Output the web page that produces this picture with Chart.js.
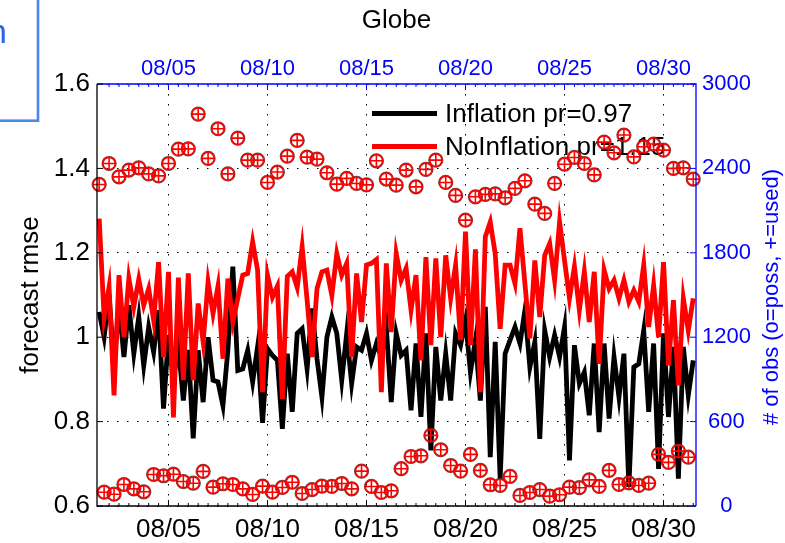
<!DOCTYPE html>
<html>
<head>
<meta charset="utf-8">
<script src="https://cdn.jsdelivr.net/npm/chart.js@4.4.1/dist/chart.umd.min.js"></script>
<style>
  html, body { margin: 0; padding: 0; background: #ffffff; }
  canvas { display: block; }
</style>
</head>
<body>
<canvas id="chart" width="785" height="543"></canvas>
<script>
const FONT = '"Liberation Sans", Arial, Helvetica, sans-serif';

// 6-hourly analysis cycles, in days of August (08/01 12Z .. 08/31 12Z)
const firstCycleDay = 1.5;
const cycleDays = Array.from({ length: 121 }, (_, i) => firstCycleDay + i * 0.25);

// axis ticks
const dateTicks = [5, 10, 15, 20, 25, 30];
const dateLabels = ['08/05', '08/10', '08/15', '08/20', '08/25', '08/30'];
const rmseTicks = [0.6, 0.8, 1.0, 1.2, 1.4, 1.6];
const obsTicks = [0, 600, 1200, 1800, 2400, 3000];

// forecast rmse, with inflation
const rmseInflation = [
  1.06, 1.00, 1.10, 0.93, 1.08, 0.953, 1.076, 0.961, 1.048, 0.933,
  1.024, 0.965, 1.064, 0.831, 1.005, 0.90, 0.98, 0.85, 0.97, 0.760,
  0.969, 0.846, 1.000, 0.898, 0.894, 0.838, 0.97, 1.167, 0.921, 0.925,
  0.969, 0.894, 0.977, 0.797, 0.973, 0.957, 0.945, 0.783, 0.961, 0.823,
  1.009, 1.020, 0.925, 1.068, 0.949, 0.858, 1.000, 1.048, 1.009, 0.898,
  1.009, 0.890, 0.977, 0.969, 1.009, 0.945, 0.985, 0.953, 1.024, 0.846,
  1.009, 0.957, 0.969, 0.827, 0.985, 0.811, 1.009, 0.732, 0.977, 0.850,
  0.961, 0.850, 1.009, 0.981, 1.040, 0.917, 0.993, 0.850, 1.072, 0.716,
  0.989, 0.665, 0.961, 0.993, 1.024, 0.985, 1.064, 0.929, 0.989, 0.759,
  1.016, 0.953, 1.005, 0.953, 1.024, 0.708, 0.981, 0.890, 0.917, 0.815,
  0.985, 0.775, 0.985, 0.807, 0.953, 0.858, 0.961, 0.645, 0.929, 0.937,
  1.016, 0.823, 0.985, 0.688, 1.009, 0.811, 0.977, 0.665, 0.977, 0.862,
  0.945
];

// forecast rmse, without inflation
const rmseNoInflation = [
  1.281, 1.048, 1.119, 0.862, 1.147, 1.000, 1.139, 1.072, 1.137, 1.076,
  1.115, 1.040, 1.178, 0.953, 1.155, 0.810, 1.141, 0.898, 1.151, 0.898,
  1.080, 0.989, 1.131, 1.056, 1.121, 0.949, 1.139, 1.036, 1.092, 1.147,
  1.151, 1.226, 1.159, 0.870, 1.147, 1.095, 1.121, 0.854, 1.144, 1.155,
  1.118, 1.214, 1.088, 0.953, 1.115, 1.155, 1.159, 1.099, 1.198, 1.147,
  1.175, 0.953, 1.151, 1.036, 1.171, 1.175, 1.184, 0.870, 1.175, 1.012,
  1.198, 1.135, 1.163, 1.064, 1.147, 0.945, 1.190, 0.981, 1.187, 1.000,
  1.194, 1.092, 1.171, 0.993, 1.250, 0.981, 1.208, 0.870, 1.238, 1.273,
  1.198, 1.020, 1.171, 1.171, 1.127, 1.258, 1.127, 0.997, 1.182, 1.048,
  1.194, 1.222, 1.135, 1.273, 1.182, 1.092, 1.167, 1.064, 1.155, 1.036,
  1.155, 0.937, 1.159, 1.115, 1.135, 1.092, 1.135, 1.084, 1.111, 1.084,
  1.171, 1.024, 1.123, 1.000, 1.178, 0.933, 1.088, 0.886, 1.092, 1.016,
  1.092
];

// number of observations per cycle (possible = used)
const obsCount = [
  2286, 98, 2435, 84, 2340, 153, 2388, 122, 2404, 101,
  2361, 224, 2347, 215, 2435, 226, 2537, 174, 2539, 162,
  2786, 246, 2471, 134, 2682, 158, 2361, 153, 2615, 122,
  2459, 82, 2459, 141, 2300, 98, 2374, 132, 2487, 169,
  2599, 89, 2480, 117, 2466, 141, 2369, 139, 2288, 160,
  2329, 122, 2293, 248, 2283, 139, 2454, 96, 2324, 108,
  2281, 265, 2388, 352, 2269, 357, 2393, 502, 2459, 400,
  2300, 288, 2208, 248, 2032, 367, 2198, 253, 2215, 151,
  2219, 146, 2191, 210, 2258, 75, 2312, 96, 2146, 117,
  2080, 70, 2293, 80, 2430, 134, 2478, 130, 2435, 186,
  2354, 139, 2587, 253, 2511, 153, 2637, 165, 2482, 146,
  2554, 162, 2573, 367, 2530, 310, 2400, 390, 2404, 347,
  2324
];

const toPoints = (ys) => ys.map((y, i) => ({ x: cycleDays[i], y }));

const BLUE = '#0000ff';
const RED = '#ff0000';

// axes frame, inward tick marks, titles and legend
const axesDecor = {
  id: 'axesDecor',
  beforeDatasetsDraw(chart) {
    const { ctx } = chart;
    // legend
    const items = [chart.data.datasets[0], chart.data.datasets[1]];
    const yRows = [113.5, 146.5];
    ctx.save();
    ctx.font = '26px ' + FONT;
    ctx.textBaseline = 'middle';
    ctx.textAlign = 'left';
    items.forEach((ds, k) => {
      ctx.strokeStyle = ds.borderColor;
      ctx.lineWidth = 4.8;
      ctx.beginPath();
      ctx.moveTo(372, yRows[k]);
      ctx.lineTo(437, yRows[k]);
      ctx.stroke();
      ctx.fillStyle = '#000';
      ctx.fillText(ds.label, 445, yRows[k] + 1);
    });
    ctx.restore();
  },
  afterDraw(chart) {
    const { ctx, chartArea: a, scales } = chart;
    const { x, x2, y, y2 } = scales;
    ctx.save();

    // axis lines
    ctx.lineWidth = 1.3;
    ctx.strokeStyle = '#000';
    ctx.beginPath();
    ctx.moveTo(a.left, a.top); ctx.lineTo(a.left, a.bottom); ctx.lineTo(a.right, a.bottom);
    ctx.stroke();
    ctx.strokeStyle = BLUE;
    ctx.beginPath();
    ctx.moveTo(a.left, a.top); ctx.lineTo(a.right, a.top); ctx.lineTo(a.right, a.bottom);
    ctx.stroke();

    // date ticks: majors each 5 days, minors every half day
    ctx.lineWidth = 1;
    for (let d = 2; d <= 31.5; d += 0.5) {
      const len = dateTicks.includes(d) ? 6 : 3;
      const px = x.getPixelForValue(d);
      ctx.strokeStyle = '#000';
      ctx.beginPath(); ctx.moveTo(px, a.bottom); ctx.lineTo(px, a.bottom - len); ctx.stroke();
      const pt = x2.getPixelForValue(d);
      ctx.strokeStyle = BLUE;
      ctx.beginPath(); ctx.moveTo(pt, a.top); ctx.lineTo(pt, a.top + len); ctx.stroke();
    }
    // value ticks
    ctx.strokeStyle = '#000';
    rmseTicks.forEach(v => {
      const py = y.getPixelForValue(v);
      ctx.beginPath(); ctx.moveTo(a.left, py); ctx.lineTo(a.left + 6, py); ctx.stroke();
    });
    ctx.strokeStyle = BLUE;
    obsTicks.forEach(v => {
      const py = y2.getPixelForValue(v);
      ctx.beginPath(); ctx.moveTo(a.right, py); ctx.lineTo(a.right - 6, py); ctx.stroke();
    });

    // titles
    ctx.fillStyle = '#000';
    ctx.font = '26px ' + FONT;
    ctx.textAlign = 'center';
    ctx.textBaseline = 'alphabetic';
    ctx.fillText('Globe', (a.left + a.right) / 2, 28);

    ctx.save();
    ctx.translate(38, (a.top + a.bottom) / 2);
    ctx.rotate(-Math.PI / 2);
    ctx.fillText('forecast rmse', 0, 0);
    ctx.restore();

    ctx.save();
    ctx.fillStyle = BLUE;
    ctx.font = '22px ' + FONT;
    ctx.translate(778, 297);
    ctx.rotate(-Math.PI / 2);
    ctx.fillText('# of obs (o=poss, +=used)', 0, 0);
    ctx.restore();

    // neighbouring panel edge at the top-left corner
    ctx.strokeStyle = '#4a86f0';
    ctx.lineWidth = 2.6;
    ctx.strokeRect(-10, -10, 48, 130.7);
    ctx.fillStyle = '#2a62f2';
    ctx.font = '34px ' + FONT;
    ctx.textAlign = 'left';
    ctx.fillText('n', -12, 43);

    ctx.restore();
  }
};

const dateTickLabel = (v) => {
  const k = dateTicks.indexOf(v);
  return k >= 0 ? dateLabels[k] : '';
};

const markerBase = {
  data: toPoints(obsCount),
  showLine: false,
  pointBackgroundColor: 'rgba(0,0,0,0)',
  yAxisID: 'y2',
  clip: false
};

new Chart(document.getElementById('chart'), {
  type: 'line',
  data: {
    datasets: [
      {
        label: 'Inflation pr=0.97',
        data: toPoints(rmseInflation),
        borderColor: '#000000',
        borderWidth: 4.8,
        pointRadius: 0,
        tension: 0,
        yAxisID: 'y',
        order: 4
      },
      {
        label: 'NoInflation pr=1.15',
        data: toPoints(rmseNoInflation),
        borderColor: RED,
        borderWidth: 4.8,
        pointRadius: 0,
        tension: 0,
        yAxisID: 'y',
        order: 3
      },
      Object.assign({}, markerBase, {
        label: 'obs possible (outline)',
        pointStyle: 'circle',
        pointRadius: 7,
        pointBorderWidth: 1.2,
        pointBorderColor: 'rgba(40,20,20,0.75)',
        order: 2
      }),
      Object.assign({}, markerBase, {
        label: 'obs possible',
        pointStyle: 'circle',
        pointRadius: 6.2,
        pointBorderWidth: 1.7,
        pointBorderColor: RED,
        order: 1
      }),
      Object.assign({}, markerBase, {
        label: 'obs used',
        pointStyle: 'cross',
        pointRadius: 6.2,
        pointBorderWidth: 1.6,
        pointBorderColor: RED,
        order: 0
      })
    ]
  },
  options: {
    responsive: false,
    animation: false,
    events: [],
    layout: { padding: 0 },
    plugins: { legend: { display: false }, tooltip: { enabled: false }, title: { display: false } },
    scales: {
      x: {
        type: 'linear',
        position: 'bottom',
        min: 1.39,
        max: 31.64,
        afterBuildTicks: (s) => { s.ticks = dateTicks.map(v => ({ value: v })); },
        afterFit: (s) => { s.height = 37; },
        ticks: {
          callback: dateTickLabel,
          color: '#000',
          font: { family: FONT, size: 26 },
          maxRotation: 0,
          autoSkip: false,
          padding: 8
        },
        grid: { drawTicks: false, color: '#000', lineWidth: 1 },
        border: { display: false, dash: [1.5, 8.5] }
      },
      x2: {
        type: 'linear',
        position: 'top',
        min: 1.39,
        max: 31.64,
        afterBuildTicks: (s) => { s.ticks = dateTicks.map(v => ({ value: v })); },
        afterFit: (s) => { s.height = 84; },
        ticks: {
          callback: dateTickLabel,
          color: BLUE,
          font: { family: FONT, size: 22 },
          maxRotation: 0,
          autoSkip: false,
          padding: 2
        },
        grid: { drawOnChartArea: false, drawTicks: false },
        border: { display: false }
      },
      y: {
        position: 'left',
        min: 0.6,
        max: 1.6,
        afterBuildTicks: (s) => { s.ticks = rmseTicks.map(v => ({ value: v })); },
        afterFit: (s) => { s.width = 97; },
        ticks: {
          callback: (v) => String(v),
          color: '#000',
          font: { family: FONT, size: 26 },
          padding: 7
        },
        grid: { drawTicks: false, color: '#000', lineWidth: 1 },
        border: { display: false, dash: [1.5, 8.5] }
      },
      y2: {
        position: 'right',
        min: 0,
        max: 3000,
        afterBuildTicks: (s) => { s.ticks = obsTicks.map(v => ({ value: v })); },
        afterFit: (s) => { s.width = 89; },
        ticks: {
          callback: (v) => String(v),
          color: BLUE,
          font: { family: FONT, size: 22 },
          crossAlign: 'center',
          padding: 6
        },
        grid: { drawOnChartArea: false, drawTicks: false },
        border: { display: false }
      }
    }
  },
  plugins: [axesDecor]
});
</script>
</body>
</html>
